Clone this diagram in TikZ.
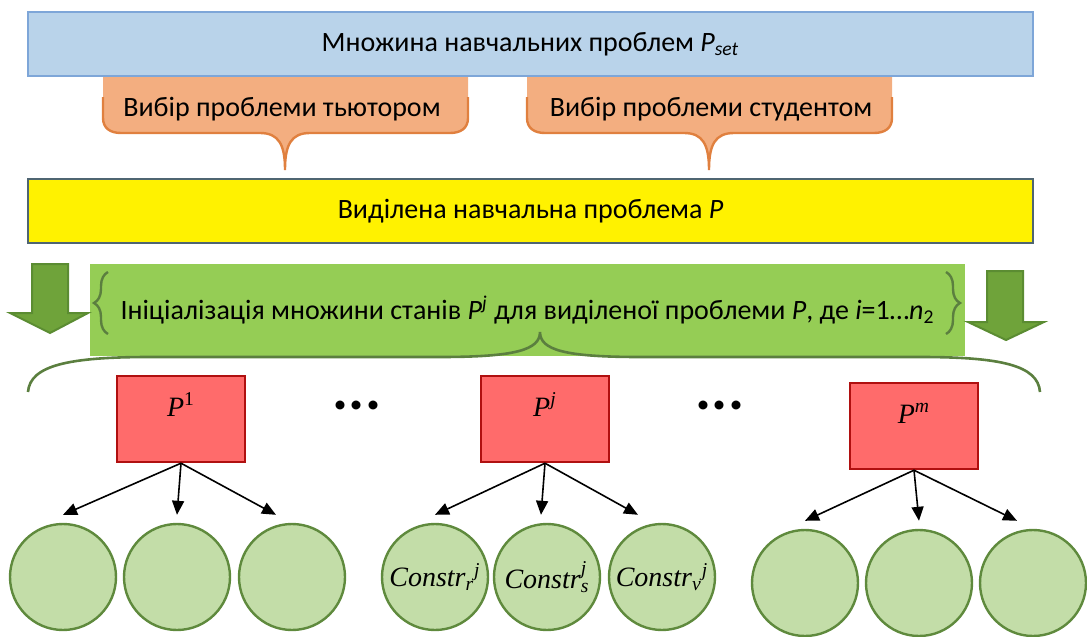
\documentclass[tikz,border=0pt]{standalone}
\usepackage{amsmath}
\usepackage{fontspec}
\setmainfont{Carlito}
\newfontfamily\tmsfont{Liberation Serif}
\usetikzlibrary{arrows.meta,decorations.pathreplacing}

\definecolor{setfill}{HTML}{B9D3EA}
\definecolor{setline}{HTML}{7EA6D8}
\definecolor{callfill}{HTML}{F3AE80}
\definecolor{callline}{HTML}{E0803F}
\definecolor{chosenline}{HTML}{4F6572}
\definecolor{initfill}{HTML}{95CD55}
\definecolor{arrfill}{HTML}{6FA33A}
\definecolor{arrline}{HTML}{5B8C32}
\definecolor{braceline}{HTML}{5B7F3F}
\definecolor{probfill}{HTML}{FF6B6B}
\definecolor{probline}{HTML}{B01010}
\definecolor{cfill}{HTML}{C3DDA8}
\definecolor{cline}{HTML}{5F8A3D}

\begin{document}
\begin{tikzpicture}[x=0.5pt, y=-0.5pt,
    wide/.style={
        draw,
        line width=1.2pt,
        minimum width=502.5pt,
        minimum height=32pt,
        font=\fontsize{14}{16}\selectfont
    },
    setbar/.style={
        wide,
        fill=setfill,
        draw=setline
    },
    chosenbar/.style={
        wide,
        fill=yellow,
        draw=chosenline
    },
    initbar/.style={
        fill=initfill,
        minimum width=437.5pt,
        minimum height=46pt,
        text height=11pt,
        text depth=1pt,
        font=\fontsize{14}{16}\selectfont
    },
    calltext/.style={font=\fontsize{14}{16}\selectfont},
    callout/.style={fill=callfill},
    calledge/.style={draw=callline, line width=1.2pt},
    bigarrow/.style={fill=arrfill, draw=arrline, line width=1pt},
    curly/.style={
        decorate,
        decoration={brace, amplitude=7pt},
        draw=braceline,
        line width=1.2pt
    },
    probbox/.style={
        draw=probline,
        fill=probfill,
        line width=1.2pt,
        minimum width=64pt,
        minimum height=43pt,
        text height=10pt,
        text depth=13pt,
        font=\tmsfont\fontsize{14}{16}\selectfont\itshape
    },
    constr/.style={
        circle,
        draw=cline,
        fill=cfill,
        line width=1.2pt,
        minimum size=53pt,
        inner sep=0pt,
        font=\tmsfont\fontsize{14}{16}\selectfont\itshape
    },
    conn/.style={-{Triangle[width=6pt,length=7pt]}, line width=0.8pt},
    ellip/.style={font=\fontsize{30}{30}\selectfont\bfseries}
]
\useasboundingbox (0,0) rectangle (1087,637);

%%%%%%%%%%%%%%%%%%%%%%%%
% Set of problems and the two ways of choosing
%%%%%%%%%%%%%%%%%%%%%%%%

% --- Callouts (drawn first, they hang under the top bar) ---
\fill[callout] (103,75) -- (103,118) .. controls (103,128) and (110,133) .. (121,133)
    -- (260,133) .. controls (279,133) and (285,145) .. (285,170)
    .. controls (285,145) and (291,133) .. (310,133)
    -- (450,133) .. controls (461,133) and (468,128) .. (468,118) -- (468,75) -- cycle;
\draw[calledge] (103,97) -- (103,118) .. controls (103,128) and (110,133) .. (121,133)
    -- (260,133) .. controls (279,133) and (285,145) .. (285,170)
    .. controls (285,145) and (291,133) .. (310,133)
    -- (450,133) .. controls (461,133) and (468,128) .. (468,118) -- (468,97);

\fill[callout] (527,75) -- (527,118) .. controls (527,128) and (534,133) .. (545,133)
    -- (684,133) .. controls (703,133) and (709,145) .. (709,170)
    .. controls (709,145) and (715,133) .. (734,133)
    -- (874,133) .. controls (885,133) and (892,128) .. (892,118) -- (892,75) -- cycle;
\draw[calledge] (527,97) -- (527,118) .. controls (527,128) and (534,133) .. (545,133)
    -- (684,133) .. controls (703,133) and (709,145) .. (709,170)
    .. controls (709,145) and (715,133) .. (734,133)
    -- (874,133) .. controls (885,133) and (892,128) .. (892,118) -- (892,97);

\node[calltext] (bytutor) at (282,109) {Вибір проблеми тьютором};
\node[calltext] (bystudent) at (711,109) {Вибір проблеми студентом};

% --- Bars ---
\node[setbar] (pset) at (530.5,44) {Множина навчальних проблем \textit{P}$_{\textit{set}}$};
\node[chosenbar] (chosen) at (530.5,211) {Виділена навчальна проблема \textit{P}};

%%%%%%%%%%%%%%%%%%%%%%%%
% Initialisation of the states
%%%%%%%%%%%%%%%%%%%%%%%%

\node[initbar] (init) at (527.5,309.5)
    {Ініціалізація множини станів \textit{P}$^{\textit{j}}$ для виділеної проблеми \textit{P}, де \textit{i}=1…\textit{n}$_{\text{2}}$};
\draw[curly] (108,334) -- (108,272);
\draw[curly] (946,272) -- (946,334);

% --- Big arrows ---
\draw[bigarrow] (32,264) -- (68,264) -- (68,313) -- (88,313) -- (50,333)
    -- (10,313) -- (32,313) -- cycle;
\draw[bigarrow] (987,271) -- (1023,271) -- (1023,322) -- (1044,322) -- (1006,340)
    -- (968,322) -- (987,322) -- cycle;

% --- Big brace over the states ---
\draw[braceline, line width=1.3pt]
    (28,392) .. controls (30,365) and (70,357) .. (150,357)
    -- (440,357) .. controls (515,357) and (540,350) .. (540,332)
    .. controls (540,350) and (565,357) .. (640,357)
    -- (920,357) .. controls (1000,357) and (1038,365) .. (1040,392);

%%%%%%%%%%%%%%%%%%%%%%%%
% States P^1 ... P^j ... P^m
%%%%%%%%%%%%%%%%%%%%%%%%

\node[probbox] (p1) at (181,419) {P$^{\textup{1}}$};
\node[probbox] (pj) at (545,419) {P$^{\textit{j}}$};
\node[probbox] (pm) at (914,426) {P$^{\textit{m}}$};

\node[ellip] (dotsa) at (357,405) {...};
\node[ellip] (dotsb) at (720,405) {...};

% --- Constraints ---
\node[constr] (c1a) at (63,577) {};
\node[constr] (c1b) at (177,577) {};
\node[constr] (c1c) at (292,577) {};

\node[constr] (c2a) at (435,577) {Constr$_{\textit{r}}{}^{\textit{j}}$};
\node[constr] (c2b) at (547,577) {Constr$^{\textit{j}}_{\textit{s}}$};
\node[constr] (c2c) at (662,577) {Constr$_{\textit{v}}{}^{\textit{j}}$};

\node[constr] (c3a) at (805,583) {};
\node[constr] (c3b) at (919,583) {};
\node[constr] (c3c) at (1033,583) {};

% --- Arrows ---
\draw[conn] (p1.south) -- ([yshift=4pt]c1a.north);
\draw[conn] (p1.south) -- ([yshift=4pt]c1b.north);
\draw[conn] (p1.south) -- ([xshift=-8pt,yshift=4pt]c1c.north);

\draw[conn] (pj.south) -- ([yshift=4pt]c2a.north);
\draw[conn] (pj.south) -- ([xshift=-3pt,yshift=4pt]c2b.north);
\draw[conn] (pj.south) -- ([xshift=-12pt,yshift=4pt]c2c.north);

\draw[conn] (pm.south) -- ([yshift=4pt]c3a.north);
\draw[conn] (pm.south) -- ([yshift=4pt]c3b.north);
\draw[conn] (pm.south) -- ([xshift=-8pt,yshift=4pt]c3c.north);

\end{tikzpicture}
\end{document}
